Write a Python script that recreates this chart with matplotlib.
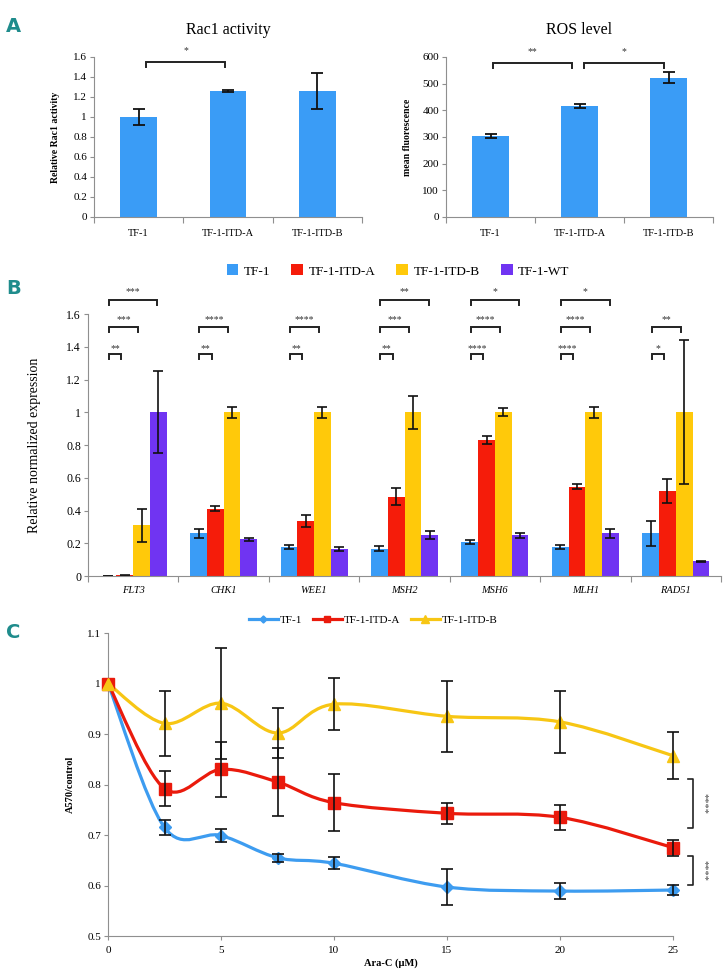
import numpy as np
import matplotlib
matplotlib.use('Agg')
import matplotlib.pyplot as plt
from matplotlib.path import Path
from matplotlib.patches import PathPatch, Patch
from matplotlib.lines import Line2D

plt.rcParams['font.family'] = ['Liberation Serif', 'DejaVu Serif']

# ---- panel A data
cell_lines = ['TF-1', 'TF-1-ITD-A', 'TF-1-ITD-B']
rac1 = [1.0, 1.26, 1.26]
rac1_err = [0.08, 0.01, 0.18]
ros = [305, 415, 522]
ros_err = [8, 8, 20]

# ---- panel B data
genes = ['FLT3', 'CHK1', 'WEE1', 'MSH2', 'MSH6', 'MLH1', 'RAD51']
b_groups = ['TF-1', 'TF-1-ITD-A', 'TF-1-ITD-B', 'TF-1-WT']
expr_tf1 = [0.003, 0.26, 0.175, 0.167, 0.205, 0.175, 0.26]
expr_tf1_err = [0.0, 0.025, 0.012, 0.015, 0.012, 0.012, 0.075]
expr_itda = [0.005, 0.41, 0.335, 0.485, 0.83, 0.545, 0.52]
expr_itda_err = [0.002, 0.015, 0.035, 0.05, 0.025, 0.015, 0.075]
expr_itdb = [0.31, 1.0, 1.0, 1.0, 1.0, 1.0, 1.0]
expr_itdb_err = [0.1, 0.035, 0.035, 0.1, 0.025, 0.035, 0.44]
expr_wt = [1.0, 0.225, 0.165, 0.25, 0.25, 0.26, 0.09]
expr_wt_err = [0.25, 0.01, 0.01, 0.025, 0.015, 0.025, 0.003]
sig_vs_itda = ['**', '**', '**', '**', '****', '****', '*']
sig_vs_itdb = ['***', '****', '****', '***', '****', '****', '**']
sig_vs_wt = ['***', '', '', '**', '*', '*', '']

# ---- panel C data
arac = [0, 2.5, 5, 7.5, 10, 15, 20, 25]
via_tf1 = [1.0, 0.715, 0.699, 0.655, 0.644, 0.597, 0.589, 0.591]
via_tf1_err = [0, 0.015, 0.012, 0.008, 0.012, 0.035, 0.016, 0.01]
via_itda = [1.0, 0.792, 0.83, 0.805, 0.764, 0.743, 0.735, 0.675]
via_itda_err = [0, 0.035, 0.055, 0.067, 0.057, 0.021, 0.025, 0.016]
via_itdb = [1.0, 0.921, 0.961, 0.902, 0.959, 0.935, 0.924, 0.857]
via_itdb_err = [0, 0.064, 0.11, 0.05, 0.051, 0.07, 0.061, 0.046]

BLUE = '#3a9cf6'
RED = '#f51c0a'
YELLOW = '#ffc90a'
PURPLE = '#7034f2'
TEAL = '#1f8c8c'
SPINE = '#8f8f8f'

W, H = 725, 980
fig = plt.figure(figsize=(W / 100, H / 100), dpi=100)


def box(x0, y0, x1, y1):
    # pixel box -> figure fraction
    return [x0 / W, 1 - y1 / H, (x1 - x0) / W, (y1 - y0) / H]


def style(ax):
    for s in ['top', 'right']:
        ax.spines[s].set_visible(False)
    for s in ['left', 'bottom']:
        ax.spines[s].set_color(SPINE)
        ax.spines[s].set_linewidth(0.8)
    ax.tick_params(axis='y', direction='out', length=3, color=SPINE, width=0.8, pad=2)
    ax.tick_params(axis='x', which='major', length=0)
    ax.tick_params(axis='x', which='minor', direction='out', length=4, color=SPINE, width=0.8)


def fmt(v):
    return '%g' % round(v, 2)


def bracket(ax, x0, x1, y, leg, txt, ty, fs=7):
    ax.plot([x0, x0, x1, x1], [y - leg, y, y, y - leg], color='#222222', lw=1.4,
            clip_on=False, solid_joinstyle='miter')
    ax.text((x0 + x1) / 2, ty, txt, ha='center', va='center', fontsize=fs,
            color='#333333', clip_on=False)


# ================= panel A
fig.text(6 / W, 1 - 27 / H, 'A', fontsize=14, fontweight='bold', color=TEAL,
         family=['Liberation Sans Narrow', 'DejaVu Sans'], va='center')

x = np.arange(3)
axa = fig.add_axes(box(94, 57, 362, 217))
axa.bar(x, rac1, width=0.41, color=BLUE, yerr=rac1_err, capsize=4.5,
        error_kw=dict(elinewidth=1.3, capthick=1.3, ecolor='#111111'))
axa.set_xlim(-0.5, 2.5)
axa.set_ylim(0, 1.6)
axa.set_yticks(np.arange(0, 1.61, 0.2))
axa.set_yticklabels([fmt(v) for v in np.arange(0, 1.61, 0.2)], fontsize=8)
axa.set_xticks(x)
axa.set_xticklabels(cell_lines, fontsize=7.5)
axa.set_xticks([-0.5, 0.5, 1.5, 2.5], minor=True)
style(axa)
axa.tick_params(axis='x', which='major', pad=9)
axa.set_ylabel('Relative Rac1 activity', fontsize=7, fontweight='bold')
axa.yaxis.set_label_coords(-0.127, 0.5)
axa.set_title('Rac1 activity', fontsize=11.5, pad=0, y=1.0 + 23 / 160)
bracket(axa, 0.08, 0.97, 1.55, 0.05, '*', 1.66)

axr = fig.add_axes(box(446, 57, 713, 217))
axr.bar(x, ros, width=0.41, color=BLUE, yerr=ros_err, capsize=4.5,
        error_kw=dict(elinewidth=1.3, capthick=1.3, ecolor='#111111'))
axr.set_xlim(-0.5, 2.5)
axr.set_ylim(0, 600)
axr.set_yticks(np.arange(0, 601, 100))
axr.set_yticklabels([str(v) for v in range(0, 601, 100)], fontsize=8)
axr.set_xticks(x)
axr.set_xticklabels(cell_lines, fontsize=7.5)
axr.set_xticks([-0.5, 0.5, 1.5, 2.5], minor=True)
style(axr)
axr.tick_params(axis='x', which='major', pad=9)
axr.set_ylabel('mean fluorescence', fontsize=7, fontweight='bold')
axr.yaxis.set_label_coords(-0.127, 0.5)
axr.set_title('ROS level', fontsize=11.5, pad=0, y=1.0 + 23 / 160)
bracket(axr, 0.03, 0.92, 578, 18, '**', 620)
bracket(axr, 1.05, 1.95, 578, 18, '*', 620)

# ================= panel B
fig.text(6 / W, 1 - 288 / H, 'B', fontsize=14, fontweight='bold', color=TEAL,
         family=['Liberation Sans Narrow', 'DejaVu Sans'], va='center')

axb = fig.add_axes(box(88, 314, 721, 576))
g = np.arange(len(genes))
bw = 0.185
series = [(expr_tf1, expr_tf1_err, BLUE), (expr_itda, expr_itda_err, RED),
          (expr_itdb, expr_itdb_err, YELLOW), (expr_wt, expr_wt_err, PURPLE)]
for i, (vals, errs, col) in enumerate(series):
    axb.bar(g + (i - 1.5) * bw, vals, width=bw, color=col, yerr=errs, capsize=3.5,
            error_kw=dict(elinewidth=1.2, capthick=1.2, ecolor='#111111'))
axb.set_xlim(-0.5, len(genes) - 0.5)
axb.set_ylim(0, 1.6)
axb.set_yticks(np.arange(0, 1.61, 0.2))
axb.set_yticklabels([fmt(v) for v in np.arange(0, 1.61, 0.2)], fontsize=8.5)
axb.set_xticks(g)
axb.set_xticklabels(genes, fontsize=7.5, style='italic')
axb.set_xticks(np.arange(-0.5, len(genes)), minor=True)
style(axb)
axb.tick_params(axis='x', which='major', pad=7)
axb.set_ylabel('Relative normalized expression', fontsize=10)
axb.yaxis.set_label_coords(-0.075, 0.5)

for k in range(len(genes)):
    left = k - 1.5 * bw + 0.01
    bracket(axb, left, k - 0.5 * bw - 0.04, 1.353, 0.025, sig_vs_itda[k], 1.39, fs=7)
    bracket(axb, left, k + 0.5 * bw - 0.04, 1.52, 0.03, sig_vs_itdb[k], 1.565, fs=7)
    if sig_vs_wt[k]:
        bracket(axb, left, k + 1.5 * bw - 0.01, 1.686, 0.03, sig_vs_wt[k], 1.735, fs=7)

handles = [Patch(facecolor=c, edgecolor='none') for c in [BLUE, RED, YELLOW, PURPLE]]
fig.legend(handles, b_groups, loc='center', bbox_to_anchor=(398 / W, 1 - 271 / H),
           ncol=4, frameon=False, fontsize=9.5, handlelength=0.9, handleheight=0.9,
           handletextpad=0.4, columnspacing=1.6)

# ================= panel C
fig.text(6 / W, 1 - 633 / H, 'C', fontsize=14, fontweight='bold', color=TEAL,
         family=['Liberation Sans Narrow', 'DejaVu Sans'], va='center')

axc = fig.add_axes(box(108, 633, 673, 936))


def smooth_path(xs, ys):
    pts = np.column_stack([xs, ys]).astype(float)
    n = len(pts)
    verts = [pts[0]]
    codes = [Path.MOVETO]
    for i in range(n - 1):
        p0 = pts[i - 1] if i > 0 else pts[i]
        p1 = pts[i]
        p2 = pts[i + 1]
        p3 = pts[i + 2] if i + 2 < n else pts[i + 1]
        verts += [p1 + (p2 - p0) / 6, p2 - (p3 - p1) / 6, p2]
        codes += [Path.CURVE4] * 3
    return Path(verts, codes)


lines_c = [(via_tf1, via_tf1_err, '#3d9cf0', 'D', 6, 'TF-1'),
           (via_itda, via_itda_err, '#ea1a0c', 's', 8, 'TF-1-ITD-A'),
           (via_itdb, via_itdb_err, '#f7c614', '^', 8.5, 'TF-1-ITD-B')]
leg_handles = []
for vals, errs, col, mk, ms, lab in lines_c:
    axc.add_patch(PathPatch(smooth_path(arac, vals), facecolor='none', edgecolor=col,
                            lw=2.3, zorder=2, clip_on=False))
    axc.plot(arac, vals, ls='none', marker=mk, ms=ms, color=col, mec=col, zorder=3,
             clip_on=False)
    # only points that carry an error bar
    keep = np.array(errs) > 0
    eb = axc.errorbar(np.array(arac)[keep], np.array(vals)[keep], yerr=np.array(errs)[keep],
                      fmt='none', ecolor='#111111', elinewidth=1.2,
                      capsize=4.5, capthick=1.2, zorder=4)
    for art in eb.get_children():
        art.set_clip_on(False)
    leg_handles.append(Line2D([], [], color=col, lw=2.3, marker=mk, ms=ms * 0.6, mec=col))

axc.set_xlim(0, 25)
axc.set_ylim(0.5, 1.1)
axc.set_yticks(np.arange(0.5, 1.11, 0.1))
axc.set_yticklabels([fmt(v) for v in np.arange(0.5, 1.11, 0.1)], fontsize=8)
axc.set_xticks([0, 5, 10, 15, 20, 25])
axc.set_xticklabels(['0', '5', '10', '15', '20', '25'], fontsize=8)
style(axc)
axc.tick_params(axis='x', which='major', direction='out', length=3, color=SPINE, pad=4)
axc.set_xlabel('Ara-C (\u00b5M)', fontsize=7.5, fontweight='bold', labelpad=3)
axc.set_ylabel('A570/control', fontsize=7.5, fontweight='bold')
axc.yaxis.set_label_coords(-0.058, 0.5)

# right side significance brackets
for y0, y1 in [(0.714, 0.811), (0.601, 0.658)]:
    axc.plot([25.65, 25.88, 25.88, 25.65], [y0, y0, y1, y1], color='#222222', lw=1.2,
             clip_on=False)
    axc.text(26.35, (y0 + y1) / 2, '****', rotation=270, ha='center', va='center',
             fontsize=7.5, color='#444444', clip_on=False)

fig.legend(leg_handles, [l[5] for l in lines_c], loc='center',
           bbox_to_anchor=(373 / W, 1 - 620 / H), ncol=3, frameon=False, fontsize=8,
           handlelength=2.6, handletextpad=0.15, columnspacing=1.0)

fig.savefig('out.png', dpi=100)
